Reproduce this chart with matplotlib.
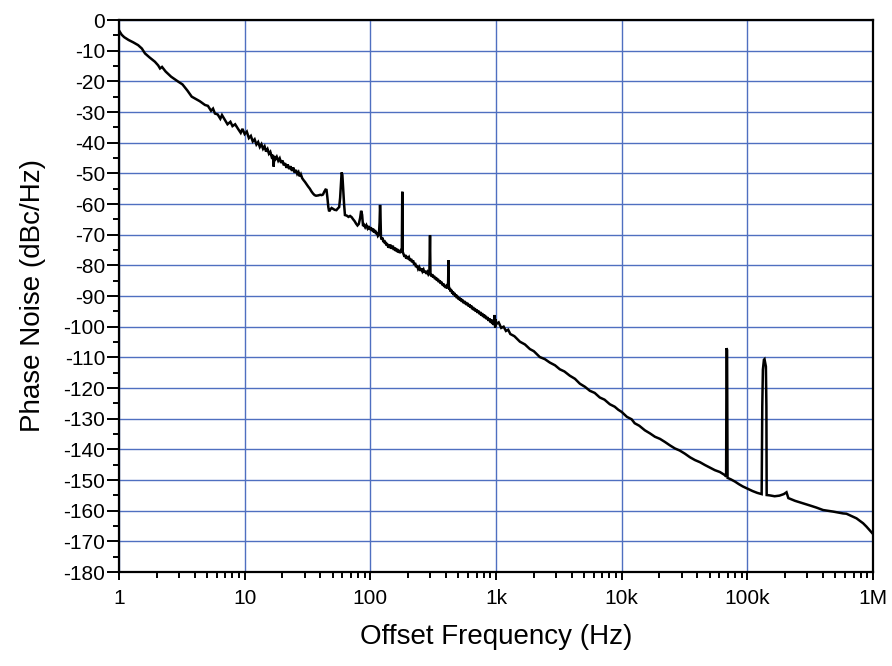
import matplotlib
matplotlib.use('Agg')
import matplotlib.pyplot as plt
import numpy as np
from matplotlib.ticker import LogLocator, MultipleLocator, NullFormatter

# ---------------- data ----------------
# 1 Hz - 10 Hz
f_a = [1.0, 1.05, 1.1, 1.19, 1.3, 1.42, 1.52, 1.61, 1.75, 1.93, 2.05, 2.12, 2.2, 2.35,
       2.6, 2.96, 3.2, 3.5, 3.79, 4.1, 4.4, 4.83, 5.1, 5.4, 5.6, 5.8, 6.1, 6.4, 6.6,
       6.97, 7.3, 7.7, 8.0, 8.4, 8.89, 9.3, 9.6]
L_a = [-3.4, -4.8, -5.6, -6.5, -7.3, -8.2, -9.3, -10.9, -12.2, -13.6, -14.8, -15.8, -15.3, -16.8,
       -18.5, -20.1, -21.0, -23.0, -25.0, -25.8, -26.5, -27.7, -28.0, -29.6, -28.9, -30.5, -30.8, -32.2, -31.0,
       -32.6, -34.0, -33.2, -34.6, -34.0, -35.6, -36.8, -35.5]

# 10 Hz - 1 kHz (spurs at ~47, 60, 85, 120, 180, 300, 420 Hz)
f_b = [10.0, 10.4, 10.8, 11.2, 11.6, 12.0, 12.4, 12.8, 13.2, 13.6, 14.0, 14.4, 14.8, 15.2, 15.6,
       16.0, 16.4, 16.8, 17.0, 17.2, 17.6, 18.0, 18.5, 19.0, 19.5, 20.0, 20.5, 21.0, 21.5, 22.0,
       22.6, 23.2, 23.8, 24.4, 25.0, 25.6, 26.2, 26.8, 27.4, 28.0, 28.7, 29.4, 30.2, 31.0, 32.0,
       33.0, 34.0, 35.0, 36.0, 37.0, 38.5, 40.0, 41.0, 42.0, 43.0, 44.0, 44.8, 45.5, 46.3, 47.0,
       48.0, 49.2, 50.5, 52.0, 53.7, 55.0, 56.5, 57.5, 58.3, 59.1, 59.9, 60.8, 61.8, 62.8, 65.0,
       67.0, 69.0, 71.0, 73.0, 75.0, 77.0, 79.0, 81.0, 83.0, 84.5, 86.0, 87.5, 89.0, 91.0, 93.0,
       95.0, 97.0, 99.0, 101, 103, 105, 107, 109, 111, 113, 115, 117, 118.5, 119.5, 120.5,
       121.5, 123, 125, 127, 129, 131, 133, 135, 137, 139, 141, 143, 145, 148, 151,
       154, 157, 160, 163, 166, 169, 172, 175, 178, 179.5, 181, 184, 187, 190, 193,
       196, 199, 203, 207, 211, 215, 219, 223, 227, 231, 235, 240, 245, 250, 255,
       260, 265, 270, 275, 280, 285, 290, 295, 298.5, 301, 306, 311, 316, 321, 327,
       333, 339, 345, 351, 357, 363, 369, 375, 381, 387, 393, 399, 405, 411, 416,
       418.5, 421, 425, 430, 436, 442, 448, 454, 460, 467, 474, 481, 488, 495, 502,
       510, 518, 526, 534, 542, 550, 559, 568, 577, 586, 595, 605, 615, 625, 635,
       646, 657, 668, 679, 690, 702, 714, 726, 738, 750, 763, 776, 789, 802, 816,
       830, 844, 858, 872, 887, 902, 917, 932, 947, 962, 975, 985, 995]
L_b = [-37.2, -36.4, -38.5, -37.8, -39.6, -38.9, -40.6, -39.8, -41.4, -40.5, -42.0, -41.2, -42.9, -42.1, -43.6,
       -43.0, -44.6, -44.0, -47.8, -44.4, -45.3, -44.6, -45.9, -45.1, -46.6, -45.8, -47.4, -46.7, -48.2, -47.1,
       -48.6, -47.7, -49.2, -48.1, -49.8, -48.9, -50.2, -49.6, -51.0, -50.3, -51.6, -52.2, -52.8, -53.5, -54.3,
       -55.0, -55.9, -56.6, -57.1, -57.3, -57.2, -57.0, -57.1, -56.9, -56.0, -55.3, -55.4, -57.8, -61.0, -62.4,
       -61.8, -61.3, -61.6, -61.9, -62.0, -61.5, -61.0, -58.0, -53.5, -49.7, -50.5, -55.0, -60.0, -63.6, -63.8,
       -64.2, -63.9, -64.3, -65.0, -65.6, -66.4, -67.0, -66.5, -64.5, -62.2, -63.5, -67.2, -66.8, -67.6, -66.9,
       -67.9, -67.2, -68.4, -67.6, -68.8, -68.0, -69.3, -68.5, -69.8, -69.2, -70.4, -70.0, -66.0, -60.3, -64.0,
       -70.8, -71.6, -71.0, -72.4, -71.8, -73.0, -72.4, -73.6, -73.0, -74.2, -73.2, -74.4, -73.3, -74.6, -73.6,
       -75.0, -74.2, -75.4, -74.6, -75.8, -75.0, -76.0, -75.3, -75.8, -56.0, -75.6, -76.4, -77.2, -76.6, -77.8,
       -77.0, -78.0, -77.4, -78.5, -77.9, -79.0, -78.4, -79.8, -79.2, -80.6, -80.0, -81.2, -80.6, -81.8, -81.0,
       -82.0, -81.4, -82.4, -81.8, -82.8, -82.2, -83.0, -82.6, -70.2, -82.8, -83.6, -82.9, -84.0, -83.4, -84.5,
       -83.9, -85.0, -84.4, -85.5, -84.9, -86.0, -85.4, -86.5, -85.9, -87.0, -86.4, -87.4, -86.9, -87.5, -85.5,
       -78.3, -86.5, -88.0, -87.4, -88.6, -88.0, -89.2, -88.5, -89.7, -89.0, -90.2, -89.5, -90.7, -90.0, -91.1,
       -90.4, -91.5, -90.8, -91.9, -91.2, -92.3, -91.6, -92.6, -92.0, -93.0, -92.3, -93.4, -92.7, -93.8, -93.1,
       -94.3, -93.6, -94.7, -94.0, -95.1, -94.4, -95.5, -94.8, -95.9, -95.2, -96.4, -95.6, -96.8, -96.0, -97.2,
       -96.5, -97.6, -96.9, -98.1, -97.3, -98.6, -97.6, -99.1, -98.0, -99.5, -96.2, -100.3, -97.6]

# 1 kHz - 10 kHz
f_c = [1000, 1050, 1100, 1150, 1200, 1250, 1300, 1400, 1550, 1700, 1860, 2000, 2230, 2450, 2680,
       2950, 3220, 3500, 3870, 4250, 4650, 5100, 5580, 6100, 6700, 7300, 8050, 8800, 9400]
L_c = [-99.2, -98.6, -100.4, -100.0, -101.4, -101.0, -102.4, -103.1, -104.9, -105.8, -107.3, -108.0, -109.9, -110.6, -111.7,
       -112.6, -113.9, -114.6, -116.0, -117.0, -118.6, -119.6, -120.9, -121.6, -123.1, -123.8, -125.3, -126.1, -127.1]

# 10 kHz - 100 kHz (spur at ~69 kHz)
f_d = [10000, 11000, 12000, 12700, 13800, 15300, 16800, 18400, 20200, 22100, 24200, 26500, 29000,
       31800, 35000, 38300, 42000, 45900, 50500, 55200, 60500, 66200, 67800, 68300, 69000, 69600,
       74000, 79600, 86000, 92000]
L_d = [-127.8, -129.4, -130.2, -131.5, -132.3, -133.8, -134.8, -135.9, -136.6, -137.6, -138.7, -139.7, -140.4,
       -141.4, -142.6, -143.5, -144.2, -145.1, -146.0, -146.8, -147.4, -148.4, -148.9, -107.0, -107.6, -149.3,
       -149.8, -150.5, -151.4, -152.1]

# 100 kHz - 1 MHz (spur at ~138 kHz)
f_e = [100000, 110000, 120000, 130000, 130800, 131500, 133000, 135500, 137000, 139000, 140500, 141800, 142500,
       150000, 165000, 180000, 195000, 205000, 212000, 240000, 278000, 320000, 355000, 401000, 482000, 578000,
       615000, 695000, 739000, 834000, 887000, 1000000]
L_e = [-152.8, -153.6, -154.2, -154.6, -139.0, -126.0, -114.0, -110.8, -110.6, -112.0, -113.0, -126.0, -154.9,
       -155.0, -155.3, -155.1, -154.6, -154.0, -155.9, -156.8, -157.6, -158.4, -159.0, -159.8, -160.3, -160.9,
       -161.0, -162.0, -162.5, -164.1, -165.2, -167.6]

xtick_values = [1, 10, 100, 1e3, 1e4, 1e5, 1e6]
xtick_labels = ['1', '10', '100', '1k', '10k', '100k', '1M']
ytick_values = list(range(-180, 1, 10))

freq = np.array(f_a + f_b + f_c + f_d + f_e, dtype=float)
level = np.array(L_a + L_b + L_c + L_d + L_e, dtype=float)

# ---------------- figure ----------------
plt.rcParams['font.family'] = ['Liberation Sans', 'DejaVu Sans']
plt.rcParams['axes.unicode_minus'] = False

fig = plt.figure(figsize=(8.92, 6.66), dpi=100)
ax = fig.add_axes([119 / 892, 1 - 572 / 666, (873 - 119) / 892, (572 - 20) / 666])

ax.semilogx(freq, level, color='black', lw=1.8, zorder=3, solid_joinstyle='miter')
ax.set_xlim(1, 1e6)
ax.set_ylim(-180, 0)

ax.set_xticks(xtick_values)
ax.set_xticklabels(xtick_labels)
ax.xaxis.set_minor_locator(LogLocator(base=10, subs=range(2, 10), numticks=20))
ax.xaxis.set_minor_formatter(NullFormatter())
ax.set_yticks(ytick_values)
ax.yaxis.set_minor_locator(MultipleLocator(5))

ax.grid(True, which='major', color='#4f6fc0', lw=1.0, zorder=1)

for s in ax.spines.values():
    s.set_linewidth(1.6)
    s.set_color('black')
    s.set_zorder(4)

ax.tick_params(axis='both', which='both', direction='out', width=1.4, colors='black',
               labelsize=15)
ax.tick_params(axis='y', which='major', length=9, pad=1)
ax.tick_params(axis='y', which='minor', length=4.5)
ax.tick_params(axis='x', which='major', length=6, pad=6)
ax.tick_params(axis='x', which='minor', length=4)

ax.set_xlabel('Offset Frequency (Hz)', fontsize=20, labelpad=12)
ax.set_ylabel('Phase Noise (dBc/Hz)', fontsize=20, labelpad=12)

fig.savefig('out.png', dpi=100)
